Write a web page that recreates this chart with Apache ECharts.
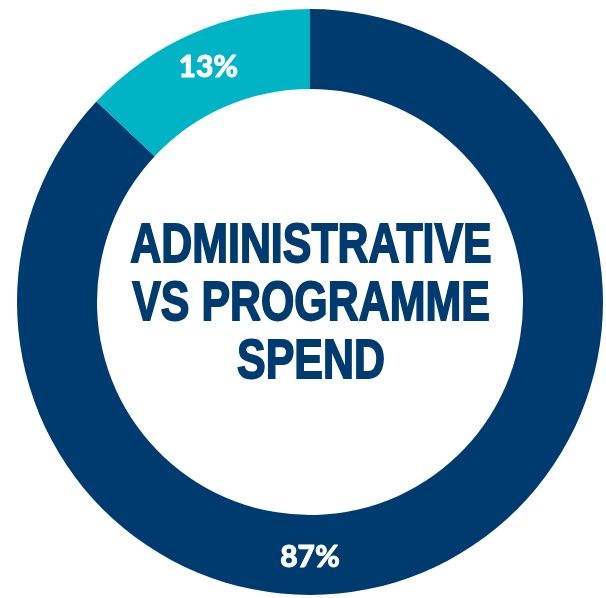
<!DOCTYPE html>
<html>
<head>
<meta charset="utf-8">
<title>Administrative vs Programme Spend</title>
<script src="https://cdn.jsdelivr.net/npm/echarts@6/dist/echarts.min.js"></script>
<style>
  html, body { margin: 0; padding: 0; background: #ffffff; }
  #chart { width: 606px; height: 598px; }
</style>
</head>
<body>
<div id="chart"></div>
<script>
// Spend split, in percent
const categories = ['Programme', 'Administrative'];
const shares = [87, 13];
const colors = ['#003B6F', '#00B4C6'];
const titleLines = ['ADMINISTRATIVE', 'VS PROGRAMME', 'SPEND'];

const chart = echarts.init(document.getElementById('chart'), null, { renderer: 'canvas' });

const CX = 310, CY = 302, R_IN = 213, R_OUT = 293;
const NAVY = '#003B6F';

chart.setOption({
  backgroundColor: '#ffffff',
  animation: false,
  // condensed heading in the hole of the ring
  graphic: [{
    type: 'text',
    x: CX + 1,
    y: CY + 3,
    scaleX: 0.78,
    silent: true,
    style: {
      text: titleLines.join('\n'),
      font: 'bold 55px "Liberation Sans", Arial, sans-serif',
      lineHeight: 58,
      align: 'center',
      verticalAlign: 'middle',
      fill: NAVY,
      stroke: NAVY,
      lineWidth: 1.8
    }
  }],
  series: [{
    type: 'pie',
    center: [CX, CY],
    radius: [R_IN, R_OUT],
    startAngle: 90,
    clockwise: true,
    silent: true,
    avoidLabelOverlap: false,
    itemStyle: { borderWidth: 0 },
    label: {
      show: true,
      position: 'inside',
      formatter: '{c}%',
      color: '#ffffff',
      fontFamily: 'Lato, "Open Sans", sans-serif',
      fontWeight: 900,
      fontSize: 30,
      textBorderColor: '#ffffff',
      textBorderWidth: 0.8
    },
    labelLine: { show: false },
    // the large share's label sits at the bottom of the ring
    labelLayout: function (p) {
      if (p.dataIndex === 0) {
        return { x: CX, y: CY + (R_IN + R_OUT) / 2 + 2, align: 'center', verticalAlign: 'middle' };
      }
      return {};
    },
    data: categories.map((name, i) => ({
      name: name,
      value: shares[i],
      itemStyle: { color: colors[i] }
    }))
  }]
});
</script>
</body>
</html>
